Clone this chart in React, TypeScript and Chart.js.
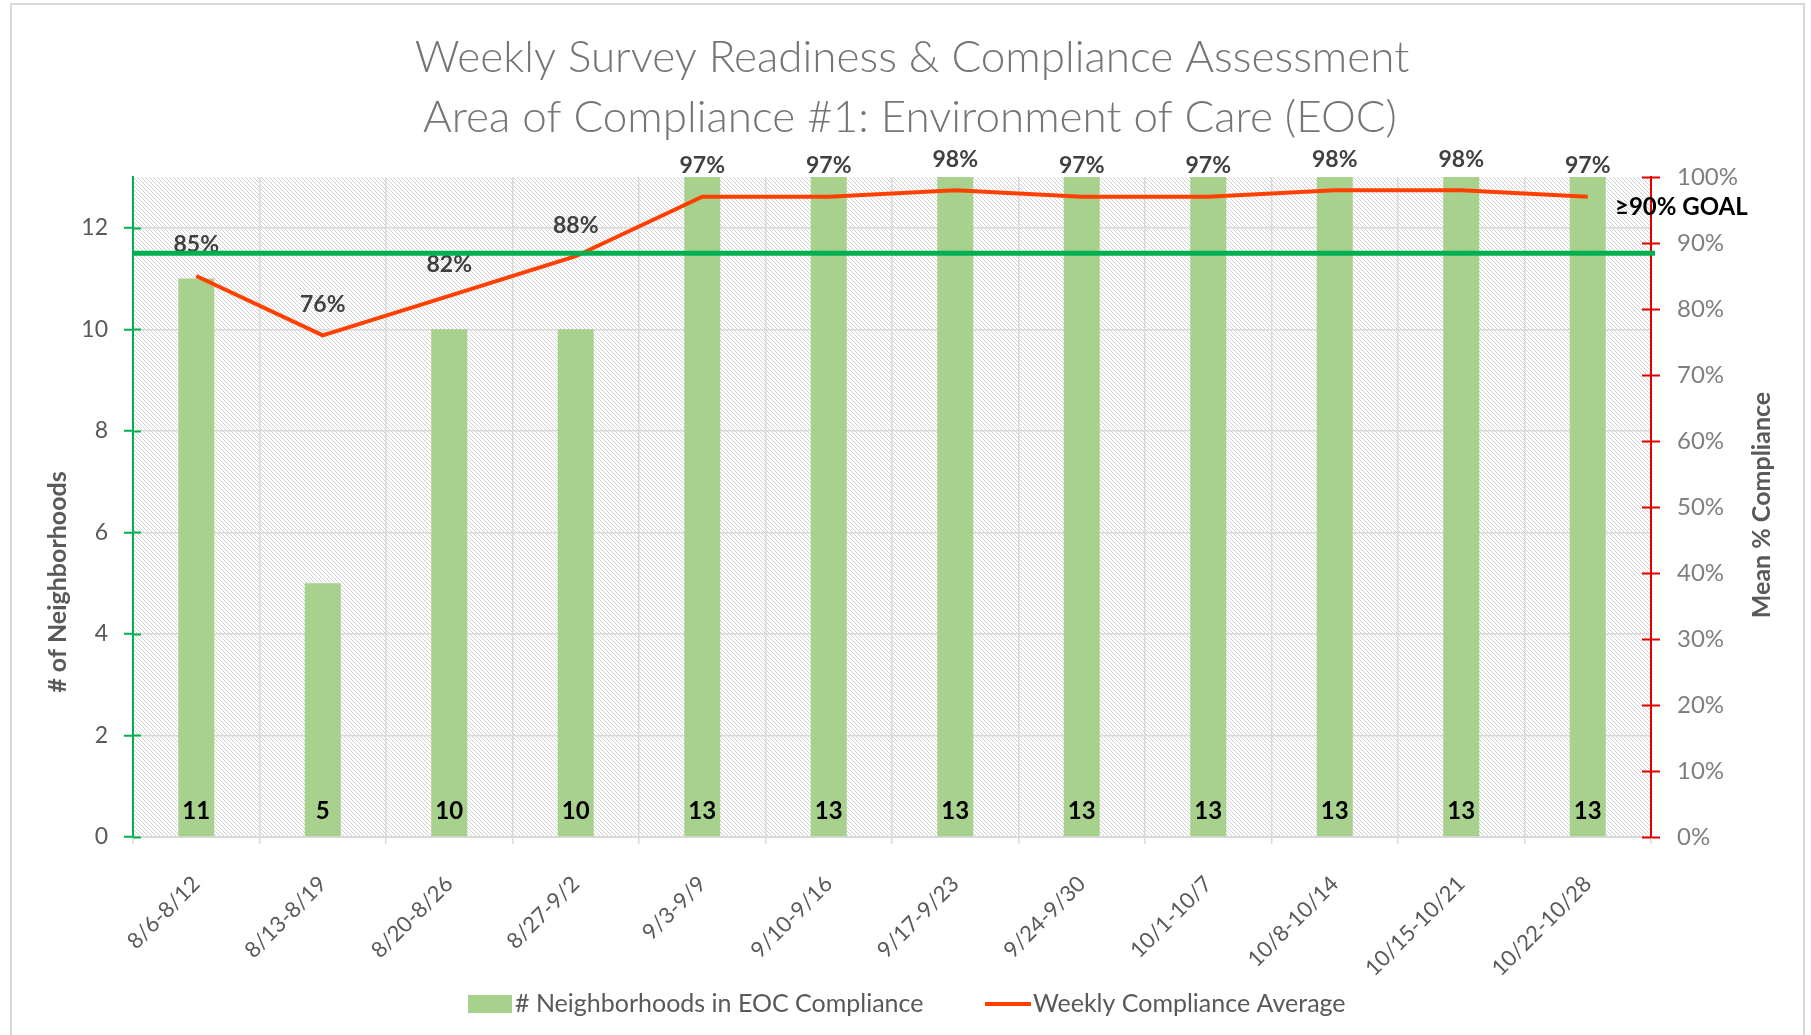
import React, { useEffect, useRef } from "react";
import { Chart, registerables } from "chart.js";

Chart.register(...registerables);

// ---------- data ----------
const weeks = [
  "8/6-8/12",
  "8/13-8/19",
  "8/20-8/26",
  "8/27-9/2",
  "9/3-9/9",
  "9/10-9/16",
  "9/17-9/23",
  "9/24-9/30",
  "10/1-10/7",
  "10/8-10/14",
  "10/15-10/21",
  "10/22-10/28",
];
const neighborhoodsInCompliance = [11, 5, 10, 10, 13, 13, 13, 13, 13, 13, 13, 13];
const weeklyComplianceAverage = [85, 76, 82, 88, 97, 97, 98, 97, 97, 98, 98, 97];
const leftTickValues = [0, 2, 4, 6, 8, 10, 12];
const rightTickValues = [0, 10, 20, 30, 40, 50, 60, 70, 80, 90, 100];
const LEFT_MAX = 13;
const GOAL_LEVEL = 11.5;
const GOAL_LABEL = "≥90% GOAL";
const titleLines = [
  "Weekly Survey Readiness & Compliance Assessment",
  "Area of Compliance #1: Environment of Care (EOC)",
];
const barLabel = "# Neighborhoods in EOC Compliance";
const lineLabel = "Weekly Compliance Average";
const leftAxisTitle = "# of Neighborhoods";
const rightAxisTitle = "Mean % Compliance";

// ---------- styles ----------
const FONT = 'Lato, "Noto Sans", sans-serif';
const BAR_COLOR = "#A9D18E";
const LINE_COLOR = "#FF4000";
const GOAL_COLOR = "#00B050";
const RIGHT_AXIS_COLOR = "#E00000";
const GRID_COLOR = "#D9D9D9";

const W = 1811;
const H = 1035;

const hatchPlugin = {
  id: "hatch",
  beforeDraw(chart: any) {
    const { ctx, chartArea: a } = chart;
    ctx.save();
    ctx.fillStyle = "#ffffff";
    ctx.fillRect(0, 0, chart.width, chart.height);
    const tile = document.createElement("canvas");
    tile.width = 4;
    tile.height = 4;
    const t = tile.getContext("2d")!;
    t.strokeStyle = "#CCCCCC";
    t.lineWidth = 0.9;
    t.beginPath();
    t.moveTo(-1, -1);
    t.lineTo(5, 5);
    t.moveTo(-1, 3);
    t.lineTo(1, 5);
    t.moveTo(3, -1);
    t.lineTo(5, 1);
    t.stroke();
    const pat = ctx.createPattern(tile, "repeat");
    if (pat) {
      ctx.fillStyle = pat;
      ctx.fillRect(a.left, a.top, a.right - a.left, a.bottom - a.top);
    }
    // outer frame
    ctx.strokeStyle = "#D9D9D9";
    ctx.lineWidth = 2;
    ctx.strokeRect(11, 4, W - 18, H + 10);
    ctx.restore();
  },
};

const labelsPlugin = {
  id: "labels",
  afterDatasetsDraw(chart: any) {
    const { ctx, chartArea: a } = chart;
    ctx.save();
    ctx.textAlign = "center";
    ctx.textBaseline = "middle";
    // bar value labels
    const barMeta = chart.getDatasetMeta(0);
    ctx.font = `bold 24px ${FONT}`;
    ctx.fillStyle = "#000000";
    barMeta.data.forEach((el: any, i: number) => {
      ctx.fillText(String(neighborhoodsInCompliance[i]), el.x, a.bottom - 26);
    });
    // percentage labels
    const lineMeta = chart.getDatasetMeta(1);
    ctx.fillStyle = "#404040";
    ctx.font = `bold 23px ${FONT}`;
    lineMeta.data.forEach((el: any, i: number) => {
      ctx.fillText(`${weeklyComplianceAverage[i]}%`, el.x, el.y - 31);
    });
    // inner halves of axis tick marks
    const yl = chart.scales.y;
    ctx.strokeStyle = GOAL_COLOR;
    ctx.lineWidth = 2;
    leftTickValues.forEach((v) => {
      const y = Math.round(yl.getPixelForValue(v)) + 0.5;
      ctx.beginPath();
      ctx.moveTo(a.left, y);
      ctx.lineTo(a.left + 8, y);
      ctx.stroke();
    });
    const yr = chart.scales.y1;
    ctx.strokeStyle = RIGHT_AXIS_COLOR;
    rightTickValues.forEach((v) => {
      const y = Math.round(yr.getPixelForValue(v)) + 0.5;
      ctx.beginPath();
      ctx.moveTo(a.right - 9, y);
      ctx.lineTo(a.right, y);
      ctx.stroke();
    });
    ctx.restore();
  },
  afterDraw(chart: any) {
    const { ctx, chartArea: a } = chart;
    ctx.save();
    // goal line
    const gy = chart.scales.y.getPixelForValue(GOAL_LEVEL);
    ctx.strokeStyle = GOAL_COLOR;
    ctx.lineWidth = 5;
    ctx.beginPath();
    ctx.moveTo(a.left, gy);
    ctx.lineTo(a.right + 4, gy);
    ctx.stroke();
    // goal label
    ctx.fillStyle = "#000000";
    ctx.font = `bold 24px ${FONT}`;
    ctx.textAlign = "left";
    ctx.textBaseline = "middle";
    ctx.fillText(GOAL_LABEL, a.right - 36, 207);

    // title
    ctx.fillStyle = "#757575";
    ctx.textAlign = "center";
    ctx.font = `300 44px ${FONT}`;
    ctx.fillText(titleLines[0], 912, 58);
    ctx.fillText(titleLines[1], 910, 118);

    // axis titles
    ctx.fillStyle = "#595959";
    ctx.font = `bold 25px ${FONT}`;
    ctx.save();
    ctx.translate(58, 582);
    ctx.rotate(-Math.PI / 2);
    ctx.fillText(leftAxisTitle, 0, 0);
    ctx.restore();
    ctx.save();
    ctx.translate(1762, 505);
    ctx.rotate(-Math.PI / 2);
    ctx.fillText(rightAxisTitle, 0, 0);
    ctx.restore();

    // legend
    const ly = 1004;
    ctx.fillStyle = BAR_COLOR;
    ctx.fillRect(468, ly - 9, 44, 18);
    ctx.fillStyle = "#595959";
    ctx.font = `25px ${FONT}`;
    ctx.textAlign = "left";
    ctx.fillText(barLabel, 515, ly);
    ctx.strokeStyle = LINE_COLOR;
    ctx.lineWidth = 4;
    ctx.beginPath();
    ctx.moveTo(985, ly);
    ctx.lineTo(1031, ly);
    ctx.stroke();
    ctx.fillText(lineLabel, 1033, ly);
    ctx.restore();
  },
};

export default function App() {
  const canvasRef = useRef<HTMLCanvasElement | null>(null);

  useEffect(() => {
    if (!canvasRef.current) return;
    const chart = new Chart(canvasRef.current, {
      type: "bar",
      data: {
        labels: weeks,
        datasets: [
          {
            type: "bar",
            label: barLabel,
            data: neighborhoodsInCompliance,
            backgroundColor: BAR_COLOR,
            borderWidth: 0,
            barPercentage: 0.285,
            categoryPercentage: 1,
            yAxisID: "y",
            order: 1,
          },
          {
            type: "line",
            label: lineLabel,
            data: weeklyComplianceAverage,
            borderColor: LINE_COLOR,
            backgroundColor: LINE_COLOR,
            borderWidth: 4,
            pointRadius: 0,
            tension: 0,
            yAxisID: "y1",
            order: 0,
          },
        ],
      } as any,
      options: {
        responsive: true,
        maintainAspectRatio: false,
        animation: false,
        layout: { padding: { top: 177, left: 0, right: 0, bottom: 0 } },
        plugins: {
          legend: { display: false },
          tooltip: { enabled: false },
          title: { display: false },
        },
        scales: {
          x: {
            offset: true,
            grid: {
              offset: true,
              color: GRID_COLOR,
              lineWidth: 1.5,
              tickColor: GRID_COLOR,
              tickLength: 7,
            },
            border: { color: GRID_COLOR, width: 2 },
            ticks: {
              minRotation: 45,
              maxRotation: 45,
              autoSkip: false,
              color: "#595959",
              font: { family: FONT, size: 22 },
              padding: 27,
            },
            afterFit: (s: any) => {
              s.height = H - 837;
            },
          },
          y: {
            position: "left",
            min: 0,
            max: LEFT_MAX,
            afterBuildTicks: (s: any) => {
              s.ticks = leftTickValues.map((v) => ({ value: v }));
            },
            grid: {
              color: GRID_COLOR,
              lineWidth: 1.5,
              tickColor: GOAL_COLOR,
              tickLength: 9,
              tickWidth: 2,
            },
            border: { color: GOAL_COLOR, width: 2 },
            ticks: {
              color: "#595959",
              font: { family: FONT, size: 23 },
              padding: 16,
            },
            afterFit: (s: any) => {
              s.width = 133;
            },
          },
          y1: {
            position: "right",
            min: 0,
            max: 100,
            afterBuildTicks: (s: any) => {
              s.ticks = rightTickValues.map((v) => ({ value: v }));
            },
            grid: {
              drawOnChartArea: false,
              tickColor: RIGHT_AXIS_COLOR,
              tickLength: 9,
              tickWidth: 2,
            },
            border: { color: RIGHT_AXIS_COLOR, width: 2 },
            ticks: {
              color: "#7F7F7F",
              font: { family: FONT, size: 24 },
              padding: 17,
              callback: (v: any) => `${v}%`,
            },
            afterFit: (s: any) => {
              s.width = W - 1651;
            },
          },
        },
      } as any,
      plugins: [hatchPlugin, labelsPlugin],
    });
    return () => chart.destroy();
  }, []);

  return (
    <div
      style={{
        position: "absolute",
        left: 0,
        top: 0,
        width: W,
        height: H,
        background: "#ffffff",
      }}
    >
      <canvas ref={canvasRef} />
    </div>
  );
}
